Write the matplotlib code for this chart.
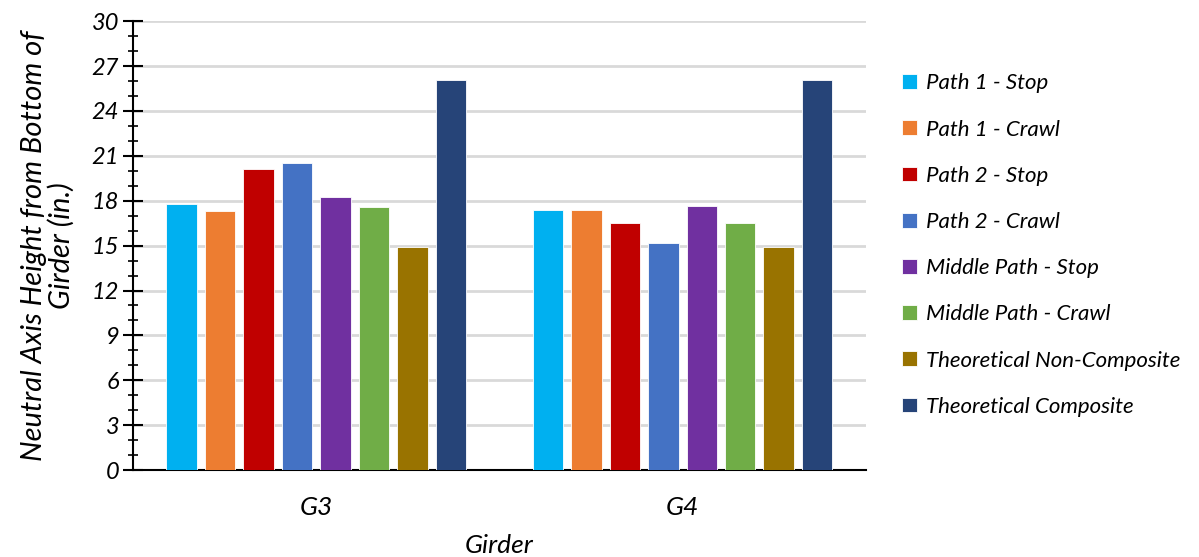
import numpy as np
import matplotlib
matplotlib.use("Agg")
import matplotlib.pyplot as plt
from matplotlib.ticker import MultipleLocator

girders = ["G3", "G4"]
series = [
    "Path 1 - Stop",
    "Path 1 - Crawl",
    "Path 2 - Stop",
    "Path 2 - Crawl",
    "Middle Path - Stop",
    "Middle Path - Crawl",
    "Theoretical Non-Composite",
    "Theoretical Composite",
]
values = [
    [17.75, 17.4],   # Path 1 - Stop
    [17.3, 17.37],   # Path 1 - Crawl
    [20.1, 16.5],    # Path 2 - Stop
    [20.5, 15.2],    # Path 2 - Crawl
    [18.25, 17.65],  # Middle Path - Stop
    [17.6, 16.5],    # Middle Path - Crawl
    [14.9, 14.9],    # Theoretical Non-Composite
    [26.1, 26.1],    # Theoretical Composite
]
colors = ["#00b0f0", "#ed7d31", "#c00000", "#4472c4",
          "#7030a0", "#70ad47", "#997300", "#264478"]

plt.rcParams['font.family'] = ['Lato', 'DejaVu Sans']

fig = plt.figure(figsize=(11.99, 5.57), dpi=100)
ax = fig.add_axes([0.111, 0.156, 0.611, 0.806])

x = np.arange(len(girders))
step = 0.105
width = 0.083
for i, (name, vals) in enumerate(zip(series, values)):
    offset = (i - (len(series) - 1) / 2) * step
    ax.bar(x + offset, vals, width, color=colors[i], label=name,
           edgecolor='white', linewidth=0.6, zorder=3)

ax.set_xlim(-0.5, 1.5)
ax.set_ylim(0, 30)
ax.yaxis.set_major_locator(MultipleLocator(3))
ax.yaxis.set_minor_locator(MultipleLocator(1))
ax.grid(axis='y', color='#d9d9d9', linewidth=2, zorder=0)
ax.set_axisbelow(True)

for s in ['top', 'right']:
    ax.spines[s].set_visible(False)
ax.spines['left'].set_linewidth(1.5)
ax.spines['bottom'].set_linewidth(1.5)

ax.tick_params(axis='y', which='major', direction='inout', length=14, width=1.5,
               labelsize=17, pad=3)
ax.tick_params(axis='y', which='minor', direction='inout', length=7, width=1.2)
ax.tick_params(axis='x', length=0, labelsize=19, pad=19)

ax.set_xticks(x)
ax.set_xticklabels(girders, style='italic')
for lbl in ax.get_yticklabels():
    lbl.set_style('italic')

# axis titles
ax.text(0.5, -0.167, "Girder", transform=ax.transAxes, ha='center', va='center',
        fontsize=19, style='italic')
ax.set_ylabel("Neutral Axis Height from Bottom of\nGirder (in.)", fontsize=21,
              style='italic', labelpad=12, linespacing=1.05)

fig.legend(loc='center left', bbox_to_anchor=(0.736, 0.56), frameon=False,
           prop={'size': 16, 'style': 'italic'}, handlelength=0.65,
           handleheight=0.65, handletextpad=0.4, labelspacing=1.18)

fig.savefig("out.png", dpi=100)
